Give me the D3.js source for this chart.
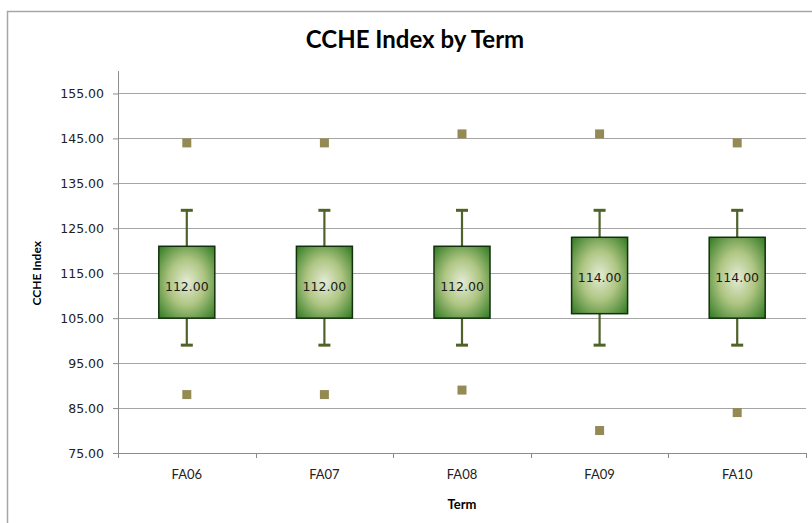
<!DOCTYPE html>
<html>
<head>
<meta charset="utf-8">
<script src="https://cdn.jsdelivr.net/npm/d3@7"></script>
<style>
  body { margin: 0; background: #fff; }
</style>
</head>
<body>
<script>
var terms = ["FA06", "FA07", "FA08", "FA09", "FA10"];
var whiskerLow = [99, 99, 99, 99, 99];
var q1 = [105, 105, 105, 106, 105];
var median = [112, 112, 112, 114, 114];
var q3 = [121, 121, 121, 123, 123];
var whiskerHigh = [129, 129, 129, 129, 129];
var outlierHigh = [144, 144, 146, 146, 144];
var outlierLow = [88, 88, 89, 80, 84];
var yTicks = [75, 85, 95, 105, 115, 125, 135, 145, 155];

var svg = d3.select("body").append("svg").attr("width", 812).attr("height", 523),
    margin = {top: 71, right: 6, bottom: 70, left: 118},
    width = 812 - margin.left - margin.right,
    height = 523 - margin.top - margin.bottom;

// chart frame
svg.append("path")
    .attr("d", "M7.5,523 L7.5,11.5 L812,11.5")
    .attr("fill", "none")
    .attr("stroke", "#a6a6a6")
    .attr("stroke-width", 1.5);

svg.append("text")
    .attr("x", 415).attr("y", 48)
    .attr("text-anchor", "middle")
    .style("font-family", "Lato, 'Open Sans', sans-serif")
    .style("font-weight", "bold")
    .style("font-size", "24px")
    .text("CCHE Index by Term");

var defs = svg.append("defs");
var grad = defs.append("radialGradient").attr("id", "boxfill")
    .attr("cx", "50%").attr("cy", "50%").attr("r", "72%");
grad.append("stop").attr("offset", "0%").attr("stop-color", "#e4ecd6");
grad.append("stop").attr("offset", "45%").attr("stop-color", "#aec582");
grad.append("stop").attr("offset", "100%").attr("stop-color", "#2a761d");

var g = svg.append("g").attr("transform", "translate(" + margin.left + "," + margin.top + ")");

var x = d3.scaleBand().domain(terms).range([0, width]);
var y = d3.scaleLinear().domain([75, 160]).range([height, 0]);

// gridlines
g.selectAll(".grid").data(yTicks.slice(1)).enter().append("line")
    .attr("x1", 0).attr("x2", width)
    .attr("y1", function (d) { return Math.round(y(d)) + 0.5; })
    .attr("y2", function (d) { return Math.round(y(d)) + 0.5; })
    .attr("stroke", "#a6a6a6")
    .attr("stroke-width", 1.2);

// y axis
var yAxis = g.append("g")
    .call(d3.axisLeft(y).tickValues(yTicks).tickSize(5).tickPadding(9)
        .tickFormat(function (d) { return d.toFixed(2); }));
yAxis.select(".domain").attr("stroke", "#8c8c8c").attr("d", "M0.5," + height + "V0");
yAxis.selectAll(".tick line").attr("stroke", "#8c8c8c");
yAxis.selectAll("text")
    .style("font-family", "'DejaVu Sans', Verdana, sans-serif")
    .style("font-size", "12.5px")
    .attr("fill", "#222");

// x axis
var xAxis = g.append("g").attr("transform", "translate(0," + height + ")")
    .call(d3.axisBottom(x).tickSize(0).tickPadding(17));
xAxis.select(".domain").attr("stroke", "#8c8c8c").attr("d", "M0,0.5H" + width);
xAxis.selectAll("text")
    .style("font-family", "Lato, 'Open Sans', sans-serif")
    .style("font-size", "13px")
    .attr("fill", "#222");
xAxis.selectAll(".xt").data(d3.range(terms.length + 1)).enter().append("line")
    .attr("x1", function (i) { return Math.round(i * x.step()) + 0.5; })
    .attr("x2", function (i) { return Math.round(i * x.step()) + 0.5; })
    .attr("y1", 0).attr("y2", 5)
    .attr("stroke", "#8c8c8c");

// axis titles
svg.append("text")
    .attr("transform", "translate(41," + (margin.top + y(115)) + ") rotate(-90)")
    .attr("text-anchor", "middle")
    .style("font-family", "Lato, 'Open Sans', sans-serif")
    .style("font-weight", "bold")
    .style("font-size", "12px")
    .text("CCHE Index");

svg.append("text")
    .attr("x", margin.left + width / 2).attr("y", 509)
    .attr("text-anchor", "middle")
    .style("font-family", "Lato, 'Open Sans', sans-serif")
    .style("font-weight", "bold")
    .style("font-size", "13px")
    .text("Term");

var boxW = 56, capW = 12;
var groups = g.selectAll(".box").data(terms).enter().append("g")
    .attr("class", "box")
    .attr("transform", function (d) { return "translate(" + (x(d) + x.bandwidth() / 2) + ",0)"; });

// whiskers
groups.append("line")
    .attr("x1", 0).attr("x2", 0)
    .attr("y1", function (d, i) { return y(whiskerHigh[i]); })
    .attr("y2", function (d, i) { return y(whiskerLow[i]); })
    .attr("stroke", "#4f6228").attr("stroke-width", 2.2);
groups.append("line")
    .attr("x1", -capW / 2).attr("x2", capW / 2)
    .attr("y1", function (d, i) { return y(whiskerHigh[i]); })
    .attr("y2", function (d, i) { return y(whiskerHigh[i]); })
    .attr("stroke", "#4f6228").attr("stroke-width", 3);
groups.append("line")
    .attr("x1", -capW / 2).attr("x2", capW / 2)
    .attr("y1", function (d, i) { return y(whiskerLow[i]); })
    .attr("y2", function (d, i) { return y(whiskerLow[i]); })
    .attr("stroke", "#4f6228").attr("stroke-width", 3);

// boxes
groups.append("rect")
    .attr("x", -boxW / 2)
    .attr("y", function (d, i) { return y(q3[i]); })
    .attr("width", boxW)
    .attr("height", function (d, i) { return y(q1[i]) - y(q3[i]); })
    .attr("fill", "url(#boxfill)")
    .attr("stroke", "#13300c").attr("stroke-width", 1.5);

groups.append("text")
    .attr("x", 0)
    .attr("y", function (d, i) { return y(median[i]); })
    .attr("dy", "0.35em")
    .attr("text-anchor", "middle")
    .style("font-family", "'DejaVu Sans', Verdana, sans-serif")
    .style("font-size", "12.5px")
    .attr("fill", "#1a1a1a")
    .text(function (d, i) { return median[i].toFixed(2); });

// outliers
var ms = 9;
groups.append("rect")
    .attr("x", -ms / 2).attr("width", ms).attr("height", ms)
    .attr("y", function (d, i) { return y(outlierHigh[i]) - ms / 2; })
    .attr("fill", "#948a54");
groups.append("rect")
    .attr("x", -ms / 2).attr("width", ms).attr("height", ms)
    .attr("y", function (d, i) { return y(outlierLow[i]) - ms / 2; })
    .attr("fill", "#948a54");
</script>
</body>
</html>
